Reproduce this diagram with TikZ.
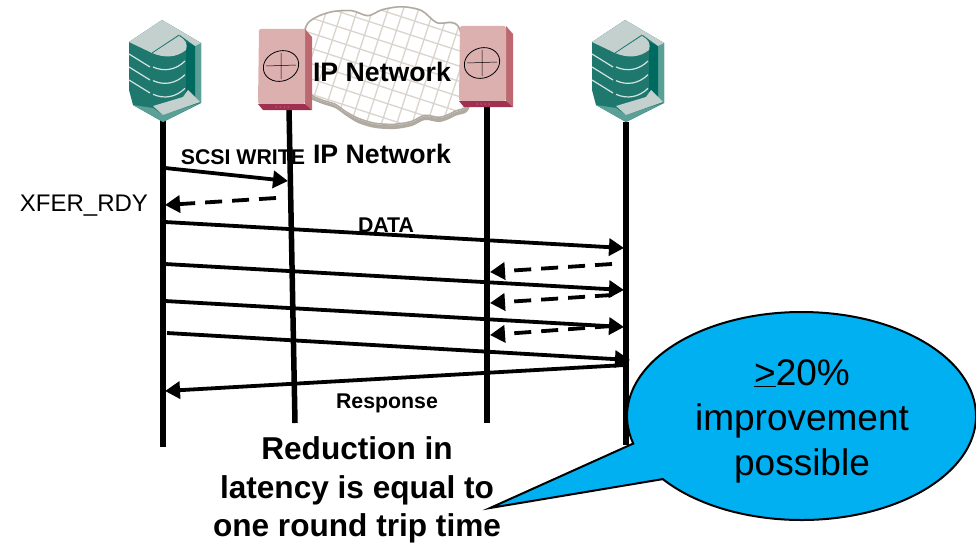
\documentclass[tikz,border=0pt]{standalone}
\usepackage{fontspec}
\setmainfont{Liberation Sans}
\usetikzlibrary{arrows.meta,shapes.geometric,shapes.callouts}
\definecolor{mytop}{RGB}{195,208,206}
\definecolor{myteal}{RGB}{30,120,110}
\definecolor{mydeep}{RGB}{0,105,96}
\definecolor{mystrip}{RGB}{90,160,150}
\definecolor{mypink}{RGB}{221,176,176}
\definecolor{myside}{RGB}{189,104,112}
\definecolor{myfoot}{RGB}{160,48,80}
\definecolor{mygrid}{RGB}{218,212,205}
\definecolor{myshade}{RGB}{176,170,160}
\definecolor{mycall}{RGB}{0,176,240}
\tikzset{
  life/.style={line width=5.5pt},
  msg/.style={line width=3.8pt,-{Triangle[length=15pt,width=17pt]}},
  ack/.style={msg,dash pattern=on 17pt off 10pt},
  small/.style={font=\fontsize{21.3}{25}\selectfont\bfseries},
  big/.style={font=\fontsize{26.7}{30}\selectfont\bfseries},
  storage/.pic={
    \fill[myteal] (0,0) -- (39,23) -- (39,83) -- (1,102) -- (-29,85) -- (-33,70) -- (-33,22) -- cycle;
    \fill[mystrip] (33,26) -- (39,23) -- (39,83) -- (33,80) -- cycle;
    \fill[mydeep] (24,22) -- (33,26) -- (33,78) -- (24,72) -- cycle;
    \fill[mystrip] (-29,85) -- (-9,88) -- (1,95) -- (38,83) -- (1,102) -- cycle;
    \fill[mytop] (0,0) -- (39,23) -- (33,26) -- (18,15) -- (-10,33) -- (-33,22) -- cycle;
    \fill[mytop] (-9,86) -- (21,77) -- (26,70) -- (38,82) -- (1,95) -- cycle;
    \fill[mytop] (-10,33) -- (17,16) .. controls (24,20) and (26,24) .. (24,30) .. controls (14,38) and (2,38) .. cycle;
    \draw[myteal,thick] (-10,33) -- (17,15);
    \foreach \y in {0,13,26}
    {
      \draw[white!80!myteal,line width=1.2pt] (-33,34+\y) -- (-12,47+\y);
      \draw[white!80!myteal,line width=1.2pt] (-9,47+\y*1.05) .. controls (2,52+\y*1.05) and (14,50+\y*1.05) .. (23,41+\y*1.05);
    }
  },
  router/.pic={
    \fill[myside] (47,0) -- (54,8) -- (54,81) -- (47,75) -- cycle;
    \fill[mypink,rounded corners=2pt] (1,0) -- (47,0) -- (47,75) -- (0,75) -- cycle;
    \fill[myfoot] (0,75) -- (47,75) -- (54,81) -- (5,81) -- cycle;
    \draw[black,line width=.8pt,rotate around={20:(23,37)}] (23,37) ellipse (18 and 15);
    \draw[black,line width=.5pt] (23,24) -- (23,50) (8,37) -- (38,36);
    \foreach \x in {18,22,26,30}
      \fill[white!70!myfoot] (\x,78) circle (.5);
  }
}

\begin{document}
\begin{tikzpicture}[x=1pt,y=-1pt]
  \useasboundingbox (0,0) rectangle (976,543);
  % end points of the lifelines
  \foreach \n/\x/\y in {a/163/120, b/163/447, c/289/108, d/295/423, e/487/106, f/487/423, g/626/122, h/626/445}
    \coordinate (\n) at (\x,\y);
  \foreach \p/\q in {a/b, c/d, e/f, g/h}
    \draw[life] (\p) -- (\q);

  % cloud
  \fill[myshade] plot[smooth cycle] coordinates {(300,60) (305,27) (315,17) (332,11) (352,10) (368,15) (382,9) (402,6) (422,10) (437,22) (460,28) (470,104) (455,116) (440,122) (425,120) (412,126) (395,129) (375,128) (358,123) (345,115) (335,108) (320,103) (308,95)};
  \begin{scope}
    \clip plot[smooth cycle] coordinates {(300,60) (305,27) (315,17) (332,11) (352,10) (368,15) (382,9) (402,6) (422,10) (437,22) (460,28) (470,100) (455,112) (440,118) (425,116) (412,122) (395,125) (375,124) (358,119) (345,112) (335,105) (320,100) (308,92)};
    \fill[white] (290,0) rectangle (480,130);
    \begin{scope}[rotate around={-18:(380,65)}]
      \foreach \x in {240,254.5,...,520}
        \draw[mygrid,line width=1.3pt] (\x,-60) -- (\x,190);
      \foreach \y in {-60,-45.5,...,190}
        \draw[mygrid,line width=1.3pt] (240,\y) -- (520,\y);
    \end{scope}
    \draw[myshade,line width=3pt] plot[smooth cycle] coordinates {(300,60) (305,27) (315,17) (332,11) (352,10) (368,15) (382,9) (402,6) (422,10) (437,22) (460,28) (470,100) (455,112) (440,118) (425,116) (412,122) (395,125) (375,124) (358,119) (345,112) (335,105) (320,100) (308,92)};
  \end{scope}

  \pic (storeA) at (162,20) {storage};
  \pic (storeB) at (625,20) {storage};
  \pic (routerA) at (258,29) {router};
  \pic (routerB) at (459,26) {router};

  % messages
  \foreach \n/\x/\y in {m1/165/168, m2/288/181, m3/276/198, m4/165/205, m5/165/222, m6/624/248, m7/165/264, m8/624/290,
    m9/165/301, m10/624/327, m11/167/333, m12/630/360, m13/625/365, m14/165/391,
    n1/612/264, n2/490/272, n3/612/295, n4/490/303, n5/612/326, n6/490/335}
    \coordinate (\n) at (\x,\y);
  \foreach \p/\q in {m1/m2, m5/m6, m7/m8, m9/m10, m11/m12, m13/m14}
    \draw[msg] (\p) -- (\q);
  \foreach \p/\q in {m3/m4, n1/n2, n3/n4, n5/n6}
    \draw[ack] (\p) -- (\q);

  \node[big] (cloudlabel) at (382,72) {IP Network};
  \node[big] (netlabel) at (382,154) {IP Network};
  \node[small] (write) at (243,157) {SCSI WRITE};
  \node[font=\fontsize{24}{28}\selectfont] (xfer) at (84,206) {XFER\_RDY};
  \node[small] (data) at (386,225) {DATA};
  \node[small] (response) at (387,403) {Response};
  \node[font=\fontsize{31.6}{38.5}\selectfont\bfseries,align=center] (saving) at (357,490) {Reduction in\\latency is equal to\\one round trip time};

  \node[ellipse callout,draw=black,line width=2pt,fill=mycall,inner sep=0pt,
    minimum width=349pt,minimum height=208pt,callout absolute pointer={(490,508)},callout pointer arc=22] (gain) at (801.5,416) {};
  \node[font=\fontsize{37}{45}\selectfont,align=center] (gaintext) at (802,421)
    {$\underline{\hbox{>}}$20\%\\improvement\\possible};
\end{tikzpicture}
\end{document}
